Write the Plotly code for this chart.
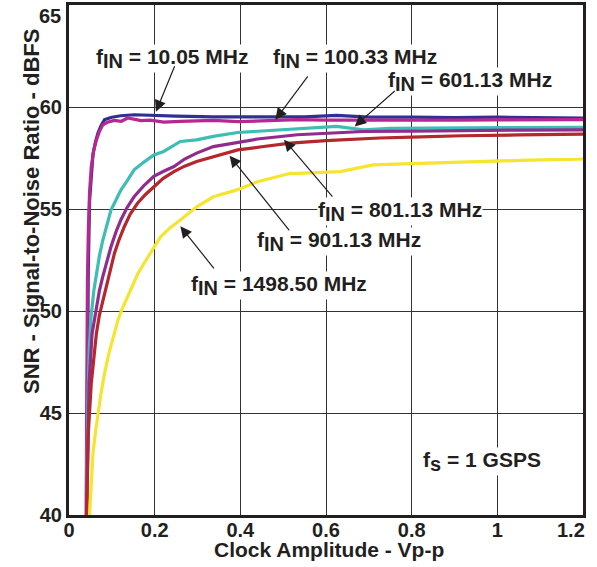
import plotly.graph_objects as go

# ---- data ----
x_10 = [0.041, 0.043, 0.045, 0.048, 0.052, 0.056, 0.062, 0.068, 0.075, 0.083, 0.1, 0.121, 0.152, 0.198, 0.25, 0.337, 0.45, 0.55, 0.625, 0.7, 0.8, 0.9, 1.0, 1.1, 1.2]
y_10 = [40.0, 47.0, 52.0, 55.4, 56.8, 57.7, 58.3, 58.75, 59.1, 59.38, 59.5, 59.57, 59.62, 59.57, 59.55, 59.52, 59.5, 59.52, 59.59, 59.5, 59.5, 59.48, 59.5, 59.48, 59.46]

x_100 = [0.040, 0.041, 0.043, 0.045, 0.048, 0.052, 0.058, 0.064, 0.071, 0.079, 0.09, 0.106, 0.122, 0.137, 0.152, 0.168, 0.19, 0.221, 0.26, 0.3, 0.337, 0.394, 0.45, 0.533, 0.6, 0.7, 0.8, 0.9, 1.0, 1.1, 1.2]
y_100 = [40.0, 48.0, 51.5, 53.8, 55.8, 57.08, 57.9, 58.39, 58.8, 59.13, 59.25, 59.34, 59.3, 59.46, 59.4, 59.33, 59.36, 59.26, 59.3, 59.33, 59.34, 59.28, 59.33, 59.38, 59.36, 59.35, 59.35, 59.36, 59.37, 59.38, 59.38]

x_601 = [0.041, 0.042, 0.044, 0.047, 0.051, 0.058, 0.064, 0.071, 0.079, 0.088, 0.098, 0.11, 0.121, 0.135, 0.152, 0.175, 0.198, 0.221, 0.26, 0.298, 0.337, 0.394, 0.45, 0.517, 0.58, 0.625, 0.687, 0.75, 0.84, 0.95, 1.05, 1.2]
y_601 = [40.0, 42.0, 45.5, 48.0, 49.6, 51.0, 51.84, 52.7, 53.48, 54.25, 54.95, 55.45, 55.93, 56.35, 56.92, 57.3, 57.65, 57.82, 58.31, 58.39, 58.56, 58.75, 58.82, 58.92, 58.97, 59.05, 58.88, 58.95, 58.97, 58.98, 59.0, 59.0]

x_801 = [0.041, 0.043, 0.047, 0.054, 0.062, 0.071, 0.079, 0.088, 0.098, 0.11, 0.121, 0.135, 0.152, 0.175, 0.198, 0.221, 0.245, 0.27, 0.298, 0.337, 0.394, 0.44, 0.533, 0.6, 0.671, 0.687, 0.8, 0.917, 1.05, 1.2]
y_801 = [40.0, 43.0, 46.5, 48.9, 50.0, 51.0, 51.7, 52.45, 53.15, 53.9, 54.46, 55.05, 55.6, 56.15, 56.6, 56.85, 57.08, 57.45, 57.74, 58.06, 58.25, 58.43, 58.64, 58.7, 58.75, 58.8, 58.82, 58.85, 58.87, 58.88]

x_901 = [0.040, 0.041, 0.045, 0.052, 0.064, 0.071, 0.079, 0.087, 0.096, 0.106, 0.117, 0.129, 0.143, 0.16, 0.178, 0.198, 0.22, 0.245, 0.27, 0.298, 0.337, 0.394, 0.45, 0.517, 0.6, 0.671, 0.725, 0.8, 0.917, 1.05, 1.2]
y_901 = [39.0, 40.0, 44.0, 46.46, 48.9, 49.8, 50.5, 51.18, 52.0, 52.82, 53.5, 54.13, 54.75, 55.28, 55.7, 56.1, 56.5, 56.83, 57.1, 57.33, 57.57, 57.9, 58.05, 58.23, 58.35, 58.43, 58.48, 58.52, 58.59, 58.63, 58.67]

x_1498 = [0.048, 0.052, 0.056, 0.062, 0.068, 0.075, 0.083, 0.094, 0.106, 0.114, 0.122, 0.133, 0.145, 0.16, 0.175, 0.195, 0.214, 0.237, 0.26, 0.298, 0.337, 0.394, 0.44, 0.517, 0.533, 0.633, 0.671, 0.71, 0.8, 0.917, 1.05, 1.19, 1.2]
y_1498 = [40.0, 41.6, 43.04, 44.1, 45.0, 46.0, 46.95, 48.0, 48.9, 49.54, 50.0, 50.52, 51.18, 51.8, 52.33, 53.0, 53.64, 54.1, 54.46, 55.11, 55.6, 55.95, 56.34, 56.75, 56.75, 56.83, 57.0, 57.16, 57.22, 57.3, 57.38, 57.44, 57.45]

series_names = ["f<sub>IN</sub> = 10.05 MHz", "f<sub>IN</sub> = 100.33 MHz", "f<sub>IN</sub> = 601.13 MHz",
                "f<sub>IN</sub> = 801.13 MHz", "f<sub>IN</sub> = 901.13 MHz", "f<sub>IN</sub> = 1498.50 MHz"]
series_x = [x_10, x_100, x_601, x_801, x_901, x_1498]
series_y = [y_10, y_100, y_601, y_801, y_901, y_1498]
series_colors = ["#2e3192", "#b8278f", "#3dbdb4", "#912b8e", "#b3272d", "#f5e52e"]

x_ticks = [0, 0.2, 0.4, 0.6, 0.8, 1.0, 1.2]
x_tick_labels = ["0", "0.2", "0.4", "0.6", "0.8", "1", "1.2"]
y_ticks = [40, 45, 50, 55, 60, 65]
x_title = "Clock Amplitude - Vp-p"
y_title = "SNR - Signal-to-Noise Ratio - dBFS"

# label positions (text centre) and arrow tail/head, in data units
label_texts = ["10.05 MHz", "100.33 MHz", "601.13 MHz", "801.13 MHz", "901.13 MHz", "1498.50 MHz"]
label_x = [0.24, 0.668, 0.937, 0.772, 0.631, 0.49]
label_y = [62.37, 62.37, 61.24, 54.87, 53.4, 51.24]
arrow_tail_x = [0.248, 0.56, 0.764, 0.618, 0.517, 0.341]
arrow_tail_y = [62.07, 61.58, 60.85, 55.53, 53.88, 52.02]
arrow_head_x = [0.203, 0.482, 0.667, 0.502, 0.375, 0.26]
arrow_head_y = [59.77, 59.38, 59.05, 58.4, 57.61, 54.15]

TXT = "#231f20"
FONT = "Liberation Sans, Arial, sans-serif"

fig = go.Figure()
for xs, ys, c, n in zip(series_x, series_y, series_colors, series_names):
    fig.add_trace(go.Scatter(x=xs, y=ys, mode="lines", name=n,
                             line=dict(color=c, width=3.2), showlegend=False))

sub = '<sub><span style="font-size:20px">{}</span></sub>'
annotations = []
for t, lx, ly in zip(label_texts, label_x, label_y):
    annotations.append(dict(x=lx, y=ly, xref="x", yref="y", showarrow=False,
                            text="<b>f" + sub.format("IN") + " = " + t + "</b>",
                            font=dict(family=FONT, size=21, color=TXT),
                            bgcolor="white", borderpad=0, xanchor="center", yanchor="middle"))
for tx, ty, hx, hy in zip(arrow_tail_x, arrow_tail_y, arrow_head_x, arrow_head_y):
    annotations.append(dict(x=hx, y=hy, ax=tx, ay=ty, xref="x", yref="y", axref="x", ayref="y",
                            text="", showarrow=True, arrowhead=2, arrowsize=1.9, arrowwidth=1.2,
                            arrowcolor=TXT, standoff=0, startstandoff=0))
annotations.append(dict(x=0.964, y=42.6, xref="x", yref="y", showarrow=False,
                        text="<b>f" + sub.format("s") + " = 1 GSPS</b>",
                        font=dict(family=FONT, size=21, color=TXT),
                        bgcolor="white", borderpad=0, xanchor="center", yanchor="middle"))
# axis titles
annotations.append(dict(x=0.505, y=-0.067, xref="paper", yref="paper", showarrow=False,
                        text="<b>%s</b>" % x_title, font=dict(family=FONT, size=21, color=TXT),
                        xanchor="center", yanchor="middle"))
annotations.append(dict(x=-0.074, y=0.596, xref="paper", yref="paper", showarrow=False, textangle=-90,
                        text="<b>%s</b>" % y_title, font=dict(family=FONT, size=22, color=TXT),
                        xanchor="center", yanchor="middle"))
# edge tick labels nudged inward, as in the reference
annotations.append(dict(x=x_ticks[-1], y=0, xref="x", yref="paper", showarrow=False,
                        text="<b>%s</b>" % x_tick_labels[-1], font=dict(family=FONT, size=20, color=TXT),
                        xanchor="right", yanchor="top", xshift=4, yshift=-2))
annotations.append(dict(x=0, y=y_ticks[-1], xref="paper", yref="y", showarrow=False,
                        text="<b>%d</b>" % y_ticks[-1], font=dict(family=FONT, size=20, color=TXT),
                        xanchor="right", yanchor="top", xshift=-6, yshift=2))

fig.update_layout(
    width=597, height=567,
    margin=dict(l=69, r=14, t=5, b=52),
    paper_bgcolor="white", plot_bgcolor="white",
    font=dict(family=FONT, color=TXT),
    annotations=annotations,
)
fig.update_xaxes(range=[0, 1.2], tickvals=x_ticks[:-1], ticktext=["<b>%s</b>" % s for s in x_tick_labels[:-1]],
                 tickfont=dict(size=20, color=TXT), showgrid=True, gridcolor="#333333", gridwidth=1.3,
                 showline=True, linecolor="#231f20", linewidth=3, mirror=True, zeroline=False,
                 automargin=False, ticklabeloverflow="allow", ticks="", ticklabelstandoff=-5)
fig.update_yaxes(range=[40, 65], tickvals=y_ticks[:-1], ticktext=["<b>%d</b>" % v for v in y_ticks[:-1]],
                 tickfont=dict(size=20, color=TXT), showgrid=True, gridcolor="#333333", gridwidth=1.3,
                 showline=True, linecolor="#231f20", linewidth=3, mirror=True, zeroline=False,
                 automargin=False, ticklabeloverflow="allow", ticks="")

fig.write_html("out.html", config={"displayModeBar": False},
               post_script="document.body.style.margin='0';document.body.style.padding='0';")
